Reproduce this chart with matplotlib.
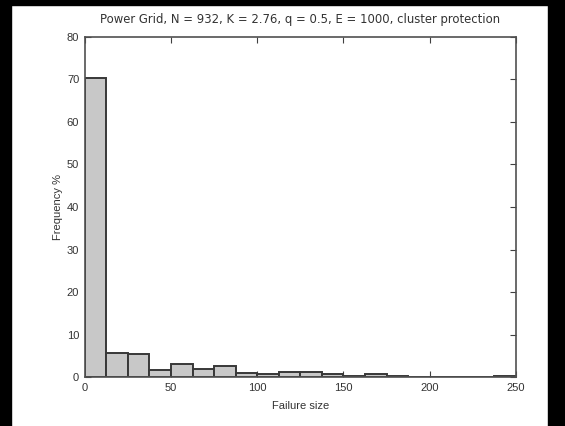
import matplotlib
matplotlib.use("Agg")
import matplotlib.pyplot as plt
from matplotlib.patches import Rectangle
import numpy as np

# Histogram of failure sizes: 20 bins of width 12.5 over [0, 250]
bin_edges = np.linspace(0, 250, 21)
freq_pct = [70.3, 5.8, 5.5, 1.7, 3.1, 2.0, 2.6, 1.1, 0.7, 1.2,
            1.2, 0.8, 0.3, 0.8, 0.3, 0.2, 0.2, 0.2, 0.0, 0.3]

title = "Power Grid, N = 932, K = 2.76, q = 0.5, E = 1000, cluster protection"
xlabel = "Failure size"
ylabel = "Frequency %"
xticks = [0, 50, 100, 150, 200, 250]
yticks = [0, 10, 20, 30, 40, 50, 60, 70, 80]

plt.rcParams['font.family'] = ['Liberation Sans', 'DejaVu Sans']

fig = plt.figure(figsize=(5.65, 4.26), dpi=100)
fig.patch.set_facecolor('white')
ax = fig.add_axes([0.150, 0.114, 0.763, 0.800])

ax.bar(bin_edges[:-1], freq_pct, width=np.diff(bin_edges), align='edge',
       color='#c8c8c8', edgecolor='#383838', linewidth=1.4, zorder=2)

ax.set_xlim(0, 250)
ax.set_ylim(0, 80)
ax.set_xticks(xticks)
ax.set_yticks(yticks)
ax.tick_params(direction='in', length=4, width=0.8, color='#404040',
               labelsize=8, labelcolor='#333333', top=True, right=True, pad=4)
for s in ax.spines.values():
    s.set_color('#505050')
    s.set_linewidth(1.2)

ax.set_title(title, fontsize=8.4, family=['DejaVu Sans'], color='#333333', pad=10)
ax.set_xlabel(xlabel, fontsize=8, color='#333333', labelpad=6)
ax.set_ylabel(ylabel, fontsize=8, color='#333333', labelpad=3)

# dark frame strips around the page
fig.patches.append(Rectangle((0, 0), 11 / 565, 1, transform=fig.transFigure,
                             color='black', zorder=0))
fig.patches.append(Rectangle((0, 1 - 5 / 426), 1, 5 / 426, transform=fig.transFigure,
                             color='black', zorder=0))
fig.patches.append(Rectangle((548 / 565, 0), 17 / 565, 1, transform=fig.transFigure,
                             color='black', zorder=0))

fig.savefig("out.png", dpi=100, facecolor='white')
